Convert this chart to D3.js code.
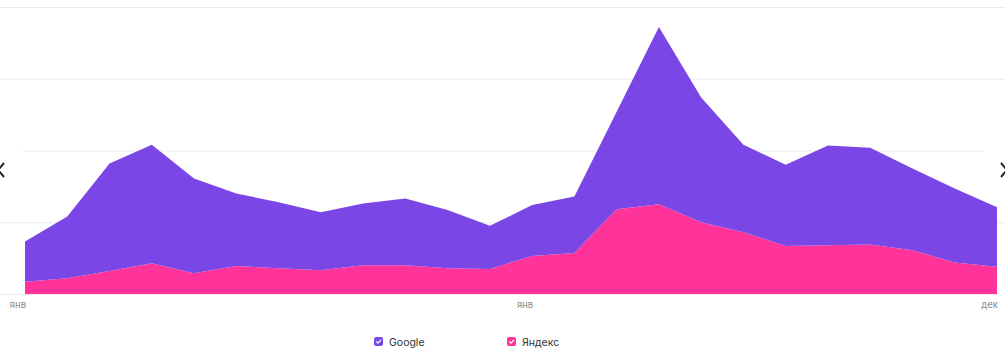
<!DOCTYPE html>
<html>
<head>
<meta charset="utf-8">
<script src="https://cdn.jsdelivr.net/npm/d3@7"></script>
<style>
  html, body { margin: 0; padding: 0; background: #fff; }
  #chart { width: 1005px; height: 353px; }
</style>
</head>
<body>
<div id="chart"></div>
<script>
// 24 months, two years
const months = ['янв', 'фев', 'мар', 'апр', 'май', 'июн', 'июл', 'авг', 'сен', 'окт', 'ноя', 'дек',
                'янв', 'фев', 'мар', 'апр', 'май', 'июн', 'июл', 'авг', 'сен', 'окт', 'ноя', 'дек'];
const periods = months.map((m, i) => i);
const tickIdx = [0, 12, 23];

const yandexValues = [17, 22, 32, 43, 29, 39, 36, 33, 40, 40, 36, 35,
                      53, 57, 118, 125, 100, 86, 67, 68, 69, 61, 44, 38];
const googleValues = [56, 86, 150, 165, 132, 101, 92, 81, 86, 93, 81, 60,
                      71, 79, 136, 247, 174, 122, 113, 139, 135, 114, 103, 83];
const gridValues = [0, 100, 200, 300, 400];

const seriesNames = ['Яндекс', 'Google'];
const legendNames = ['Google', 'Яндекс'];

const COLORS = { 'Google': '#7a47e6', 'Яндекс': '#ff3399' };

const W = 1005, H = 353;
const svg = d3.select('#chart').append('svg')
  .attr('width', W).attr('height', H);

const x = d3.scalePoint().domain(periods).range([25, 997]);
const y = d3.scaleLinear().domain([0, 400]).range([294, 7]);

// grid
svg.append('g').selectAll('line')
  .data(gridValues)
  .join('line')
  .attr('x1', 0).attr('x2', d => d === 0 ? 997 : W)
  .attr('y1', d => y(d) + 0.5).attr('y2', d => y(d) + 0.5)
  .attr('stroke', '#ebebeb').attr('stroke-width', 1);

const rows = periods.map(i => ({ 'Яндекс': yandexValues[i], 'Google': googleValues[i], i }));
const stacked = d3.stack().keys(seriesNames)(rows);

const area = d3.area()
  .x(d => x(d.data.i))
  .y0(d => y(d[0]))
  .y1(d => y(d[1]))
  .curve(d3.curveLinear);

svg.append('g').selectAll('path')
  .data(stacked)
  .join('path')
  .attr('d', area)
  .attr('fill', d => COLORS[d.key]);

// x labels
svg.append('g').selectAll('text')
  .data(tickIdx)
  .join('text')
  .attr('x', d => x(d) + 1)
  .attr('y', 308)
  .attr('text-anchor', 'end')
  .attr('font-family', 'Inter, "Noto Sans", sans-serif')
  .attr('font-size', 9.5)
  .attr('fill', '#8a8a8a')
  .text(d => months[d]);

// nav arrows
svg.append('rect').attr('x', 0).attr('y', 140).attr('width', 23).attr('height', 60).attr('fill', '#fff');
svg.append('rect').attr('x', 984).attr('y', 140).attr('width', 21).attr('height', 60).attr('fill', '#fff');
svg.append('path').attr('d', 'M4,163 L-2,170 L4,177')
  .attr('fill', 'none').attr('stroke', '#222').attr('stroke-width', 2);
svg.append('path').attr('d', 'M1001,163 L1007,170 L1001,177')
  .attr('fill', 'none').attr('stroke', '#222').attr('stroke-width', 2);

// legend
const legendX = { 'Google': 374, 'Яндекс': 507 };
const lg = svg.append('g').selectAll('g')
  .data(legendNames)
  .join('g')
  .attr('transform', d => `translate(${legendX[d]},337)`);

lg.append('rect')
  .attr('width', 9).attr('height', 9).attr('rx', 2)
  .attr('fill', d => COLORS[d]);
lg.append('path')
  .attr('d', 'M2.5,4.7 L4,6.2 L6.7,3.2')
  .attr('fill', 'none').attr('stroke', '#fff').attr('stroke-width', 1.2)
  .attr('stroke-linecap', 'round').attr('stroke-linejoin', 'round');
lg.append('text')
  .attr('x', 15).attr('y', 8.5)
  .attr('font-family', 'Inter, "Noto Sans", sans-serif')
  .attr('font-size', 10.5)
  .attr('fill', '#333')
  .text(d => d);
</script>
</body>
</html>
